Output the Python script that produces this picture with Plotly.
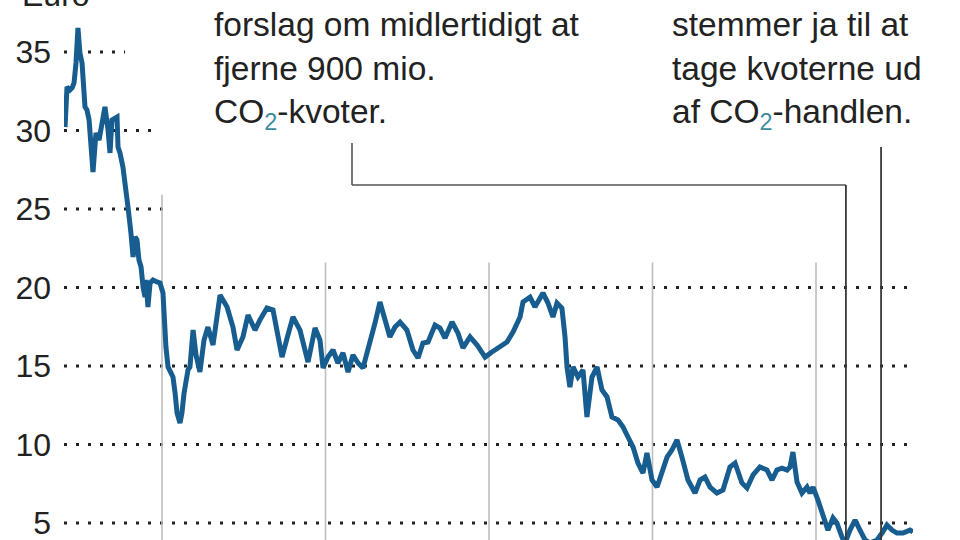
import plotly.graph_objects as go

# --- data (decimal year, EUR per CO2 quota) ---
years = [
    2008.407, 2008.413, 2008.419, 2008.437, 2008.450, 2008.462, 2008.474, 2008.486, 2008.492, 2008.498,
    2008.511, 2008.517, 2008.529, 2008.541, 2008.554, 2008.578, 2008.596, 2008.615, 2008.633, 2008.651,
    2008.670, 2008.682, 2008.694, 2008.725, 2008.731, 2008.743, 2008.761, 2008.780, 2008.792, 2008.810,
    2008.823, 2008.835, 2008.847, 2008.859, 2008.872, 2008.884, 2008.896, 2008.902, 2008.914, 2008.927,
    2008.945, 2008.969, 2008.988, 2009.006, 2009.012, 2009.024, 2009.037, 2009.055, 2009.067, 2009.080,
    2009.092, 2009.110, 2009.122, 2009.135, 2009.147, 2009.159, 2009.171, 2009.190, 2009.208, 2009.232,
    2009.257, 2009.281, 2009.312, 2009.355, 2009.398, 2009.434, 2009.459, 2009.495, 2009.526, 2009.569,
    2009.599, 2009.642, 2009.679, 2009.734, 2009.765, 2009.801, 2009.844, 2009.862, 2009.893, 2009.936,
    2009.966, 2009.985, 2010.015, 2010.046, 2010.076, 2010.107, 2010.138, 2010.168, 2010.199, 2010.229,
    2010.272, 2010.303, 2010.333, 2010.364, 2010.394, 2010.425, 2010.456, 2010.498, 2010.535, 2010.566,
    2010.596, 2010.627, 2010.670, 2010.700, 2010.731, 2010.774, 2010.810, 2010.841, 2010.884, 2010.927,
    2010.976, 2011.018, 2011.067, 2011.110, 2011.147, 2011.190, 2011.208, 2011.251, 2011.281, 2011.312,
    2011.330, 2011.361, 2011.391, 2011.416, 2011.446, 2011.465, 2011.477, 2011.495, 2011.514, 2011.544,
    2011.575, 2011.599, 2011.630, 2011.661, 2011.691, 2011.722, 2011.752, 2011.789, 2011.820, 2011.850,
    2011.881, 2011.911, 2011.942, 2011.966, 2011.997, 2012.028, 2012.058, 2012.089, 2012.119, 2012.150,
    2012.180, 2012.217, 2012.260, 2012.291, 2012.321, 2012.352, 2012.394, 2012.431, 2012.474, 2012.505,
    2012.547, 2012.578, 2012.615, 2012.657, 2012.700, 2012.731, 2012.761, 2012.792, 2012.823, 2012.841,
    2012.859, 2012.884, 2012.914, 2012.945, 2012.963, 2012.982, 2013.012, 2013.043, 2013.073, 2013.104,
    2013.128, 2013.159, 2013.177, 2013.208, 2013.239, 2013.269, 2013.300, 2013.330, 2013.373, 2013.404,
    2013.434, 2013.465, 2013.495, 2013.532, 2013.575, 2013.593,
]
prices = [
    30.22, 32.13, 32.77, 32.58, 32.71, 33.03, 34.30, 36.53, 35.45, 34.94,
    34.30, 32.77, 31.50, 31.31, 30.67, 27.36, 29.84, 29.39, 30.67, 31.50,
    30.03, 28.57, 30.67, 30.86, 28.95, 28.57, 27.68, 26.40, 25.13, 23.47,
    21.94, 23.22, 23.03, 21.75, 21.31, 20.03, 19.39, 20.48, 18.76, 20.29,
    20.48, 20.35, 20.29, 19.65, 17.93, 16.21, 14.94, 14.55, 14.30, 13.28,
    12.01, 11.37, 12.01, 13.28, 14.11, 14.75, 14.94, 17.29, 15.70, 14.62,
    16.66, 17.48, 16.34, 19.52, 18.76, 17.48, 16.02, 16.85, 18.25, 17.29,
    17.93, 18.69, 18.57, 15.57, 16.78, 18.12, 17.29, 16.46, 15.25, 17.42,
    16.66, 14.87, 15.57, 16.02, 15.19, 15.83, 14.62, 15.70, 15.19, 14.87,
    16.46, 17.74, 19.08, 17.93, 16.85, 17.48, 17.80, 17.29, 16.02, 15.51,
    16.46, 16.53, 17.61, 17.42, 16.78, 17.80, 17.10, 16.15, 16.85, 16.34,
    15.57, 15.89, 16.21, 16.53, 17.17, 18.12, 19.08, 19.39, 18.76, 19.33,
    19.65, 19.01, 18.12, 19.01, 18.69, 16.85, 14.94, 13.66, 14.94, 14.30,
    14.75, 11.75, 14.30, 14.94, 13.47, 13.03, 11.75, 11.56, 11.11, 10.48,
    9.84, 8.82, 8.18, 9.46, 7.74, 7.29, 8.18, 9.20, 9.65, 10.29,
    9.20, 7.74, 6.91, 7.74, 7.93, 7.29, 6.91, 7.10, 8.57, 8.82,
    7.55, 7.23, 8.06, 8.57, 8.38, 7.74, 8.38, 8.50, 8.38, 8.57,
    9.52, 7.61, 6.91, 7.29, 6.91, 7.29, 6.46, 5.38, 4.55, 5.32,
    5.00, 4.11, 3.73, 4.55, 5.19, 4.55, 3.92, 3.73, 3.92, 4.36,
    4.87, 4.55, 4.36, 4.36, 4.55, 4.43,
]

y_ticks = [5, 10, 15, 20, 25, 30, 35]
y_tick_labels = ["5", "10", "15", "20", "25", "30", "35"]
year_lines = [2009, 2010, 2011, 2012, 2013]
year_line_tops = [25.9, 21.6, 21.6, 21.6, 21.6]
grid_ends = [2013.593, 2013.593, 2013.593, 2013.593, 2009.006, 2008.957, 2008.774]

event_1 = 2013.183   # EU proposal pointer
event_2 = 2013.398   # parliament vote pointer
label_1_x = 2010.162

text_1 = ("forslag om midlertidigt at<br>fjerne 900 mio.<br>"
          "CO<sub><span style='color:#3c8c9c'>2</span></sub>-kvoter.")
text_2 = ("stemmer ja til at<br>tage kvoterne ud<br>"
          "af CO<sub><span style='color:#3c8c9c'>2</span></sub>-handlen.")

X_MIN, X_MAX = 2008.4006, 2013.5933
Y_MIN, Y_MAX = 3.92, 38.31

LINE_BLUE = "#185d8f"
TEXT = "#222222"
FONT = "Liberation Sans, Arial, sans-serif"

fig = go.Figure()
fig.add_trace(go.Scatter(
    x=years, y=prices, mode="lines",
    line=dict(color=LINE_BLUE, width=5, shape="linear"),
    hoverinfo="skip", showlegend=False,
))

shapes = []
# dotted horizontal grid
for lvl, end in zip(y_ticks, grid_ends):
    shapes.append(dict(type="line", xref="x", yref="y", x0=X_MIN, x1=end, y0=lvl, y1=lvl,
                       line=dict(color="#222222", width=3, dash="3px,9px"), layer="below"))
# year separators
for yr, top in zip(year_lines, year_line_tops):
    shapes.append(dict(type="line", xref="x", yref="y", x0=yr, x1=yr, y0=Y_MIN, y1=top,
                       line=dict(color="#bdbdbd", width=1.6), layer="below"))
# pointer lines
shapes += [
    dict(type="line", xref="x", yref="y", x0=label_1_x, x1=label_1_x, y0=29.2, y1=26.53,
         line=dict(color="#555555", width=1.6)),
    dict(type="line", xref="x", yref="y", x0=label_1_x, x1=event_1, y0=26.53, y1=26.53,
         line=dict(color="#555555", width=1.6)),
    dict(type="line", xref="x", yref="y", x0=event_1, x1=event_1, y0=26.53, y1=Y_MIN,
         line=dict(color="#3a3a3a", width=1.8)),
    dict(type="line", xref="x", yref="y", x0=event_2, x1=event_2, y0=28.95, y1=Y_MIN,
         line=dict(color="#3a3a3a", width=1.8)),
]

annotations = [
    dict(text=text_1, xref="paper", yref="paper", x=0.1743, y=0.992, xanchor="left", yanchor="top",
         align="left", showarrow=False, font=dict(family=FONT, size=33.5, color=TEXT)),
    dict(text=text_2, xref="paper", yref="paper", x=0.7138, y=0.992, xanchor="left", yanchor="top",
         align="left", showarrow=False, font=dict(family=FONT, size=33.5, color=TEXT)),
    dict(text="Euro", xref="paper", yref="paper", x=-0.052, y=0.973, xanchor="left", yanchor="bottom",
         align="left", showarrow=False, font=dict(family=FONT, size=32, color=TEXT)),
]

fig.update_layout(
    width=960, height=540,
    margin=dict(l=64, r=47, t=0, b=0),
    paper_bgcolor="white", plot_bgcolor="white",
    shapes=shapes, annotations=annotations,
    xaxis=dict(range=[X_MIN, X_MAX], showgrid=False, zeroline=False, showticklabels=False,
               showline=False, ticks=""),
    yaxis=dict(range=[Y_MIN, Y_MAX], showgrid=False, zeroline=False, showline=False,
               tickvals=y_ticks, ticktext=y_tick_labels, ticks="", ticklabelstandoff=12,
               ticklabeloverflow="allow",
               tickfont=dict(family=FONT, size=32, color=TEXT)),
)

fig.write_html("out.html", config={"displayModeBar": False},
               post_script="document.body.style.margin='0';")
